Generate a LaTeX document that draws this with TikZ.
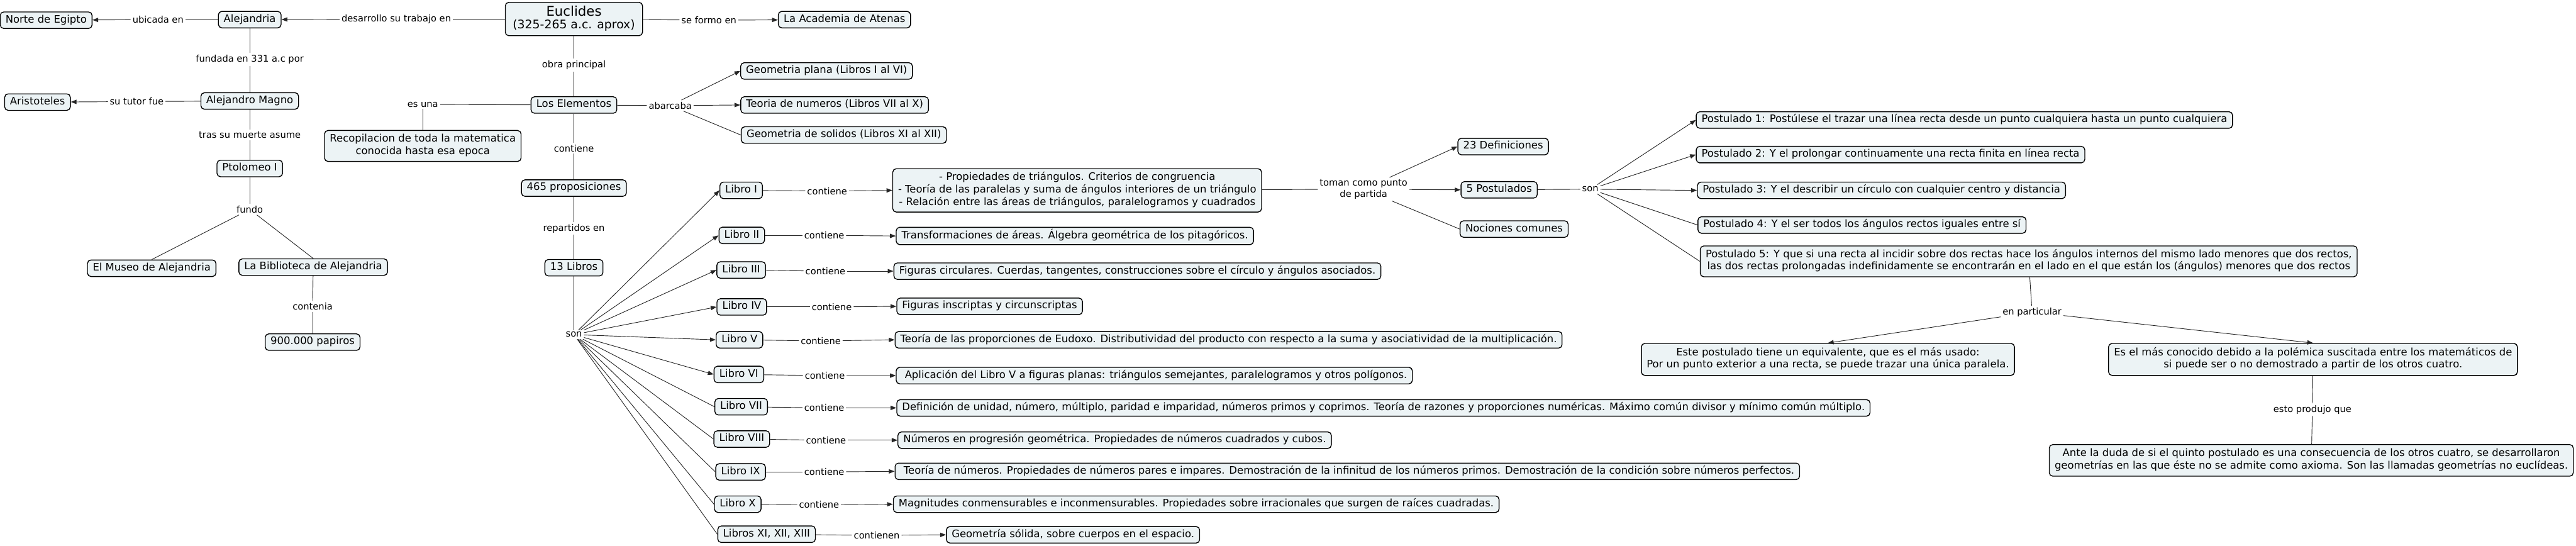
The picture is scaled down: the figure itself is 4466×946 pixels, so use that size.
\documentclass[tikz,border=0pt]{standalone}
\usepackage{fontspec}
\setmainfont{DejaVu Sans}
\usetikzlibrary{arrows.meta}
\definecolor{cfill}{RGB}{236,243,245}
\newcommand\nodefnt{\fontsize{10.2}{12.3}\selectfont}
\newcommand\lblfnt{\fontsize{9.1}{11.2}\selectfont}
\tikzset{
  concept/.style={draw=black, line width=0.3mm, fill=cfill, rounded corners=1.2mm,
    inner xsep=1.85mm, inner ysep=0.7mm, font=\nodefnt, align=center,
    execute at begin node=\strut, execute at end node=\strut},
  lbl/.style={inner sep=0.6mm, font=\lblfnt, align=center},
  conn/.style={draw=black!85, line width=0.2mm},
  arr/.style={conn, -{Triangle[length=2mm,width=1.5mm]}},
}
\begin{document}
\begin{tikzpicture}[x=0.2mm,y=-0.2mm]
\useasboundingbox (0,0) rectangle (4466,946);
% ---- left part
\node[concept] (norte) at (80,35) {Norte de Egipto};
\node[concept] (alej) at (433,34) {Alejandria};
\node[concept, inner xsep=2.6mm, inner ysep=1.2mm] (eucl) at (995,33) {{\fontsize{13.2}{16}\selectfont Euclides}\\{\fontsize{11.7}{15}\selectfont (325-265 a.c. aprox)}};
\node[concept] (acad) at (1464,34) {La Academia de Atenas};
\node[concept] (arist) at (65,177) {Aristoteles};
\node[concept] (magno) at (433,175) {Alejandro Magno};
\node[concept] (ptol) at (433,292) {Ptolomeo I};
\node[concept, inner ysep=1.2mm] (recop) at (733,253) {Recopilacion de toda la matematica\\conocida hasta esa epoca};
\node[concept] (elem) at (995,182) {Los Elementos};
\node[concept] (gplana) at (1433,123) {Geometria plana (Libros I al VI)};
\node[concept] (tnum) at (1447,182) {Teoria de numeros (Libros VII al X)};
\node[concept] (gsol) at (1463,234) {Geometria de solidos (Libros XI al XII)};
\node[concept] (prop) at (995,326) {465 proposiciones};
\node[concept] (libros) at (995,464) {13 Libros};
\node[concept] (museo) at (263,465) {El Museo de Alejandria};
\node[concept] (biblio) at (543,463) {La Biblioteca de Alejandria};
\node[concept] (papiros) at (542,593) {900.000 papiros};
% labels
\node[lbl] (lubic) at (274,34) {ubicada en};
\node[lbl] (ldesa) at (687,33) {desarrollo su trabajo en};
\node[lbl] (lfund) at (433,103) {fundada en 331 a.c por};
\node[lbl] (ltutor) at (237,176) {su tutor fue};
\node[lbl] (ltras) at (433,234) {tras su muerte asume};
\node[lbl] (lfundo) at (433,363) {fundo};
\node[lbl] (lconten) at (542,531) {contenia};
\node[lbl] (lform) at (1229,35) {se formo en};
\node[lbl] (lobra) at (995,113) {obra principal};
\node[lbl] (lesuna) at (733,181) {es una};
\node[lbl] (labar) at (1162,183) {abarcaba};
\node[lbl] (lcont) at (995,257) {contiene};
\node[lbl] (lrepart) at (995,396) {repartidos en};
\node[lbl] (lson) at (995,580) {son};
% ---- libros
\node[concept] (lI) at (1285,330) {Libro I};
\node[concept] (lII) at (1286,408) {Libro II};
\node[concept] (lIII) at (1285,468) {Libro III};
\node[concept] (lIV) at (1286,532) {Libro IV};
\node[concept] (lV) at (1282,589) {Libro V};
\node[concept] (lVI) at (1281,649) {Libro VI};
\node[concept] (lVII) at (1285,705) {Libro VII};
\node[concept] (lVIII) at (1286,761) {Libro VIII};
\node[concept] (lIX) at (1284,818) {Libro IX};
\node[concept] (lX) at (1279,874) {Libro X};
\node[concept] (lXI) at (1329,926) {Libros XI, XII, XIII};
\node[lbl] (kI) at (1434,331) {contiene};
\node[lbl] (kII) at (1429,408) {contiene};
\node[lbl] (kIII) at (1431,470) {contiene};
\node[lbl] (kIV) at (1442,532) {contiene};
\node[lbl] (kV) at (1423,591) {contiene};
\node[lbl] (kVI) at (1430,651) {contiene};
\node[lbl] (kVII) at (1429,707) {contiene};
\node[lbl] (kVIII) at (1432,763) {contiene};
\node[lbl] (kIX) at (1429,818) {contiene};
\node[lbl] (kX) at (1420,875) {contiene};
\node[lbl] (kXI) at (1520,928) {contienen};
\node[concept, anchor=west, inner ysep=1.1mm] (cI) at (1547,330) {- Propiedades de triángulos. Criterios de congruencia\\- Teoría de las paralelas y suma de ángulos interiores de un triángulo\\- Relación entre las áreas de triángulos, paralelogramos y cuadrados};
\node[concept, anchor=west] (cII) at (1553,409) {Transformaciones de áreas. Álgebra geométrica de los pitagóricos.};
\node[concept, anchor=west] (cIII) at (1549,470) {Figuras circulares. Cuerdas, tangentes, construcciones sobre el círculo y ángulos asociados.};
\node[concept, anchor=west] (cIV) at (1554,531) {Figuras inscriptas y circunscriptas};
\node[concept, anchor=west] (cV) at (1551,589) {Teoría de las proporciones de Eudoxo. Distributividad del producto con respecto a la suma y asociatividad de la multiplicación.};
\node[concept, anchor=west] (cVI) at (1553,651) {\ Aplicación del Libro V a figuras planas: triángulos semejantes, paralelogramos y otros polígonos.};
\node[concept, anchor=west] (cVII) at (1554,707) {Definición de unidad, número, múltiplo, paridad e imparidad, números primos y coprimos. Teoría de razones y proporciones numéricas. Máximo común divisor y mínimo común múltiplo.};
\node[concept, anchor=west] (cVIII) at (1556,763) {Números en progresión geométrica. Propiedades de números cuadrados y cubos.};
\node[concept, anchor=west] (cIX) at (1551,817) {\ Teoría de números. Propiedades de números pares e impares. Demostración de la infinitud de los números primos. Demostración de la condición sobre números perfectos.};
\node[concept, anchor=west] (cX) at (1548,874) {Magnitudes conmensurables e inconmensurables. Propiedades sobre irracionales que surgen de raíces cuadradas.};
\node[concept, anchor=west] (cXI) at (1640,927) {Geometría sólida, sobre cuerpos en el espacio.};
% ---- right part
\node[lbl] (ltoman) at (2364,328) {toman como punto\\de partida};
\node[concept] (def) at (2606,254) {23 Definiciones};
\node[concept] (post) at (2599,329) {5 Postulados};
\node[concept] (noc) at (2625,397) {Nociones comunes};
\node[lbl] (lson2) at (2757,328) {son};
\node[concept, anchor=west] (pA) at (2940,208) {Postulado 1: Postúlese el trazar una línea recta desde un punto cualquiera hasta un punto cualquiera};
\node[concept, anchor=west] (pB) at (2940,268) {Postulado 2: Y el prolongar continuamente una recta finita en línea recta};
\node[concept, anchor=west] (pC) at (2942,330) {Postulado 3: Y el describir un círculo con cualquier centro y distancia};
\node[concept, anchor=west] (pD) at (2943,390) {Postulado 4: Y el ser todos los ángulos rectos iguales entre sí};
\node[concept, anchor=west, inner ysep=1.1mm] (pE) at (2947,453) {Postulado 5: Y que si una recta al incidir sobre dos rectas hace los ángulos internos del mismo lado menores que dos rectos,\\las dos rectas prolongadas indefinidamente se encontrarán en el lado en el que están los (ángulos) menores que dos rectos};
\node[lbl] (lenpart) at (3523,541) {en particular};
\node[concept, inner ysep=1.3mm] (este) at (3169,623) {Este postulado tiene un equivalente, que es el más usado:\\Por un punto exterior a una recta, se puede trazar una única paralela.};
\node[concept, inner ysep=1.3mm] (esel) at (4010,623) {Es el más conocido debido a la polémica suscitada entre los matemáticos de\\si puede ser o no demostrado a partir de los otros cuatro.};
\node[lbl] (lesto) at (4009,710) {esto produjo que};
\node[concept, anchor=east, inner ysep=1.3mm] (ante) at (4462,798) {Ante la duda de si el quinto postulado es una consecuencia de los otros cuatro, se desarrollaron\\geometrías en las que éste no se admite como axioma. Son las llamadas geometrías no euclídeas.};
% ---- connectors
\draw[conn] (eucl) -- (ldesa); \draw[arr] (ldesa) -- (alej);
\draw[conn] (alej) -- (lubic); \draw[arr] (lubic) -- (norte);
\draw[conn] (alej) -- (lfund); \draw[conn] (lfund) -- (magno);
\draw[conn] (magno) -- (ltutor); \draw[arr] (ltutor) -- (arist);
\draw[conn] (magno) -- (ltras); \draw[conn] (ltras) -- (ptol);
\draw[conn] (ptol) -- (lfundo);
\draw[conn] (lfundo) -- (museo.north);
\draw[conn] (lfundo) -- (biblio.north);
\draw[conn] (biblio) -- (lconten); \draw[conn] (lconten) -- (papiros);
\draw[conn] (eucl) -- (lform); \draw[arr] (lform) -- (acad);
\draw[conn] (eucl) -- (lobra); \draw[conn] (lobra) -- (elem);
\draw[conn] (elem) -- (lesuna); \draw[conn] (lesuna) -- (recop);
\draw[conn] (elem) -- (labar);
\draw[arr] (labar) -- (gplana.west);
\draw[arr] (labar) -- (tnum.west);
\draw[conn] (labar) -- (gsol.west);
\draw[conn] (elem) -- (lcont); \draw[conn] (lcont) -- (prop);
\draw[conn] (prop) -- (lrepart); \draw[conn] (lrepart) -- (libros);
\draw[conn] (libros) -- (lson);
\foreach \b in {lI,lII,lIII,lIV,lV,lVI}{\draw[arr] (lson) -- (\b.west);}
\foreach \b in {lVII,lVIII,lIX,lX,lXI}{\draw[conn] (lson) -- (\b.west);}
\foreach \r in {I,II,III,IV,V,VI,VII,VIII,IX,X,XI}{
  \draw[conn] (l\r) -- (k\r);
  \draw[arr] (k\r) -- (c\r.west);
}
\draw[conn] (cI) -- (ltoman);
\draw[arr] (ltoman) -- (def.west);
\draw[arr] (ltoman) -- (post.west);
\draw[conn] (ltoman) -- (noc.west);
\draw[conn] (post) -- (lson2);
\draw[arr] (lson2) -- (pA.west);
\draw[arr] (lson2) -- (pB.west);
\draw[arr] (lson2) -- (pC.west);
\draw[conn] (lson2) -- (pD.west);
\draw[conn] (lson2) -- (pE.west);
\draw[conn] (pE) -- (lenpart);
\draw[arr] (lenpart) -- (este.north);
\draw[arr] (lenpart) -- (esel.north);
\draw[conn] (esel) -- (lesto); \draw[conn] (lesto) -- (ante);
\end{tikzpicture}
\end{document}
